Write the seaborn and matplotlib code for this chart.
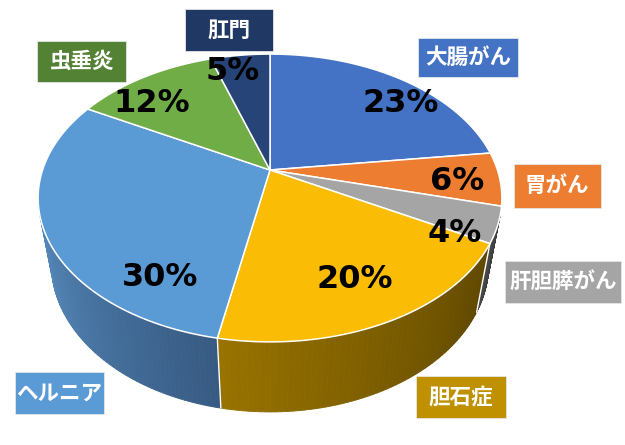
import numpy as np
import matplotlib
matplotlib.use("Agg")
import matplotlib.pyplot as plt
import seaborn as sns
from matplotlib.patches import Polygon, Rectangle
from matplotlib.colors import to_rgb

sns.set_theme(style="white")
plt.rcParams['font.family'] = ['Noto Sans CJK JP', 'DejaVu Sans']

# データ
labels = ["大腸がん", "胃がん", "肝胆膵がん", "胆石症", "ヘルニア", "虫垂炎", "肛門"]
values = [23, 6, 4, 20, 30, 12, 5]

top_colors  = ["#4472C4", "#ED7D31", "#A5A5A5", "#FBBC05", "#5B9BD5", "#70AD47", "#264478"]
side_light  = ["#2F528F", "#B85F22", "#4A4A4A", "#987300", "#5588BA", "#4E7A31", "#1B305A"]
side_dark   = ["#243F6E", "#8E4A1A", "#3A3A3A", "#5E4600", "#375A82", "#3B5C25", "#142444"]
box_colors  = ["#4472C4", "#ED7D31", "#A5A5A5", "#BF9000", "#5B9BD5", "#548235", "#203864"]

# ラベル配置 (ピクセル座標)
pct_pos = [(401, 103), (457, 182), (455, 234), (355, 280), (160, 277), (152, 104), (233, 72)]
box_center = [(468, 57), (557, 186), (563, 282), (461, 397), (59, 393), (81, 61), (229, 30)]
box_size = [(100, 39), (87, 44), (116, 42), (90, 42), (89, 42), (89, 41), (88, 42)]

# 3D 透視投影パラメータ
CX, CY = 270, 170
F, D, H = 928, 4.08, 0.391
ALPHA = np.radians(37.5)
sa, ca = np.sin(ALPHA), np.cos(ALPHA)


def proj(phi, z=0.0):
    ph = np.radians(phi)
    X, Y = np.sin(ph), np.cos(ph)
    depth = D + Y * ca - z * sa
    up = Y * sa + z * ca
    return CX + F * X / depth, CY - F * up / depth


def lerp(c1, c2, t):
    a, b = np.array(to_rgb(c1)), np.array(to_rgb(c2))
    return tuple(a + (b - a) * t)


fig = plt.figure(figsize=(6.25, 4.45), dpi=100)
ax = fig.add_axes([0, 0, 1, 1])
ax.set_xlim(0, 625)
ax.set_ylim(445, 0)
ax.axis("off")

bounds = np.concatenate([[0], np.cumsum(values)]) / sum(values) * 360
vis_lo = np.degrees(np.arccos(-1 / (D * ca)))
vis_hi = 360 - vis_lo

# 側面 (グラデーション)
for i in range(len(values)):
    lo, hi = max(bounds[i], vis_lo), min(bounds[i + 1], vis_hi)
    if hi <= lo:
        continue
    steps = np.linspace(lo, hi, 60)
    for p0, p1 in zip(steps[:-1], steps[1:]):
        t = ((p0 + p1) / 2 - lo) / (hi - lo)
        col = lerp(side_dark[i], side_light[i], t)
        pts = [proj(p0), proj(p1), proj(p1, -H), proj(p0, -H)]
        ax.add_patch(Polygon(pts, closed=True, facecolor=col, edgecolor=col, lw=0.6))
for b in bounds:
    if vis_lo < b < vis_hi:
        x0, y0 = proj(b)
        x1, y1 = proj(b, -H)
        ax.plot([x0, x1], [y0, y1], color="white", lw=1.0)

# 上面
for i in range(len(values)):
    arc = np.linspace(bounds[i], bounds[i + 1], 120)
    pts = [(CX, CY)] + [proj(p) for p in arc]
    ax.add_patch(Polygon(pts, closed=True, facecolor=top_colors[i],
                         edgecolor="white", lw=1.1, joinstyle="round"))

# パーセント表示
for v, (x, y) in zip(values, pct_pos):
    ax.text(x, y, f"{v}%", ha="center", va="center", fontsize=23,
            fontweight="bold", family="DejaVu Sans", color="black")

# 項目ラベル
for lab, col, (x, y), (w, h) in zip(labels, box_colors, box_center, box_size):
    ax.add_patch(Rectangle((x - w / 2, y - h / 2), w, h, facecolor=col,
                           edgecolor="#E6E6E6", lw=0.6))
    ax.text(x, y, lab, ha="center", va="center", fontsize=15.5,
            fontweight="bold", color="white")

fig.savefig("out.png", dpi=100)
